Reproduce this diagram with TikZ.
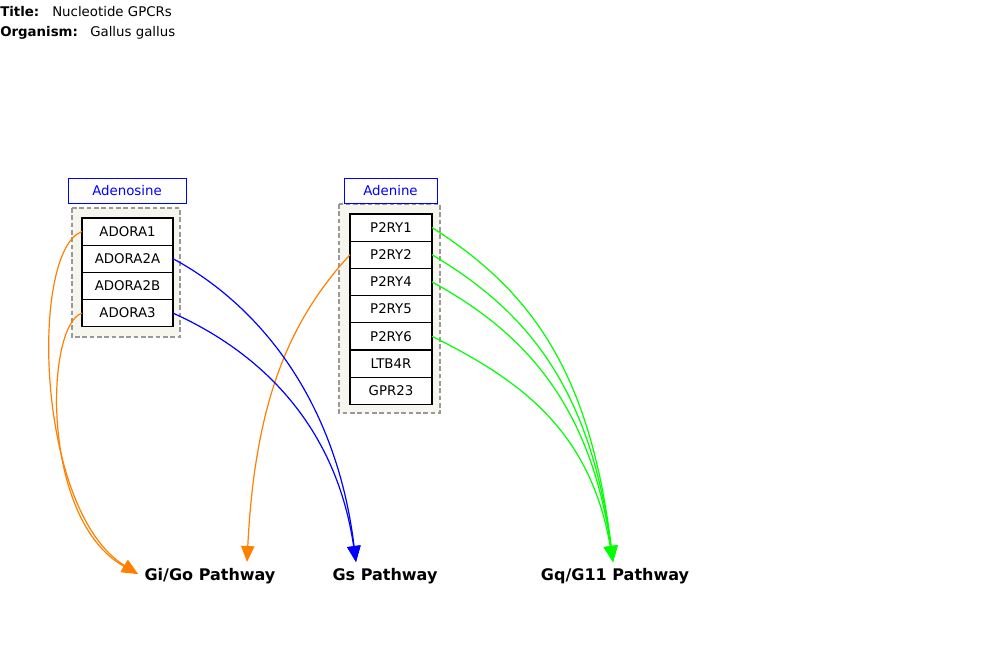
\documentclass[tikz,border=0pt]{standalone}
\usepackage{fontspec}
\setmainfont{DejaVu Sans}
\usepackage{xcolor}
\usetikzlibrary{arrows.meta,positioning}

\definecolor{giorange}{RGB}{255,128,0}
\definecolor{gsblue}{RGB}{0,0,255}
\definecolor{gqgreen}{RGB}{0,255,0}
\definecolor{grpfill}{RGB}{246,246,238}

\tikzset{
  gene/.style={draw, fill=white, line width=0.9pt, inner sep=0pt, outer sep=0pt, minimum height=20.4pt},
  ligand/.style={draw=gsblue, text=gsblue, line width=0.7pt, inner sep=0pt, minimum height=18.75pt},
  grp/.style={draw=gray!80, dash pattern=on 3.5pt off 2pt, line width=0.9pt, fill=grpfill},
  pathway/.style={font=\large\bfseries, anchor=base},
  info/.style={anchor=base west, inner sep=0pt},
  link/.style={->, line width=0.9pt},
  >={Triangle[length=12pt,width=10pt]}
}

\begin{document}
\begin{tikzpicture}[x=0.75pt, y=-0.75pt]
\useasboundingbox (0,0) rectangle (1000,644);

\node[info, font=\bfseries] (title) at (0,16) {Title:};
\node[info] (titleval) at (52,16) {Nucleotide GPCRs};
\node[info, font=\bfseries] (organism) at (0,36) {Organism:};
\node[info] (orgval) at (90,36) {Gallus gallus};

\draw [grp] (72,208) rectangle (180,337);
\draw [grp] (339,204) rectangle (440,413);

\node[ligand, minimum width=88.5pt] (adenosine) at (127,190.5) {Adenosine};
\node[ligand, minimum width=69.75pt] (adenine) at (390.5,190.5) {Adenine};

\node[gene, minimum width=68.25pt] (adora1) at (127.5,231.5) {ADORA1};
\node[gene, minimum width=68.25pt, below=0pt of adora1] (adora2a) {ADORA2A};
\node[gene, minimum width=68.25pt, below=0pt of adora2a] (adora2b) {ADORA2B};
\node[gene, minimum width=68.25pt, below=0pt of adora2b] (adora3) {ADORA3};

\node[gene, minimum width=61.5pt] (p2ry1) at (391,227.5) {P2RY1};
\node[gene, minimum width=61.5pt, below=0pt of p2ry1] (p2ry2) {P2RY2};
\node[gene, minimum width=61.5pt, below=0pt of p2ry2] (p2ry4) {P2RY4};
\node[gene, minimum width=61.5pt, below=0pt of p2ry4] (p2ry5) {P2RY5};
\node[gene, minimum width=61.5pt, below=0pt of p2ry5] (p2ry6) {P2RY6};
\node[gene, minimum width=61.5pt, below=0pt of p2ry6] (ltb4r) {LTB4R};
\node[gene, minimum width=61.5pt, below=0pt of ltb4r] (gpr23) {GPR23};

\node[pathway] (gigo) at (210,580) {Gi/Go Pathway};
\node[pathway] (gs) at (385,580) {Gs Pathway};
\node[pathway] (gq) at (615,580) {Gq/G11 Pathway};

\coordinate (gigo side) at (138,574);
\coordinate (gigo top) at (247,562);
\coordinate (gs top) at (356,562);
\coordinate (gq top) at (613,562);

\draw[link, giorange] (adora1.west) .. controls (30,250) and (35,510) .. (gigo side);
\draw[link, giorange] (adora3.west) .. controls (45,325) and (40,520) .. (gigo side);
\draw[link, giorange] (p2ry2.west) .. controls (290,320) and (255,400) .. (gigo top);

\draw[link, gsblue] (adora2a.east) .. controls (250,300) and (335,390) .. (gs top);
\draw[link, gsblue] (adora3.east) .. controls (255,350) and (335,420) .. (gs top);

\draw[link, gqgreen] (p2ry1.east) .. controls (530,290) and (590,370) .. (gq top);
\draw[link, gqgreen] (p2ry2.east) .. controls (525,310) and (590,385) .. (gq top);
\draw[link, gqgreen] (p2ry4.east) .. controls (520,330) and (590,400) .. (gq top);
\draw[link, gqgreen] (p2ry6.east) .. controls (520,380) and (590,430) .. (gq top);

\end{tikzpicture}
\end{document}
